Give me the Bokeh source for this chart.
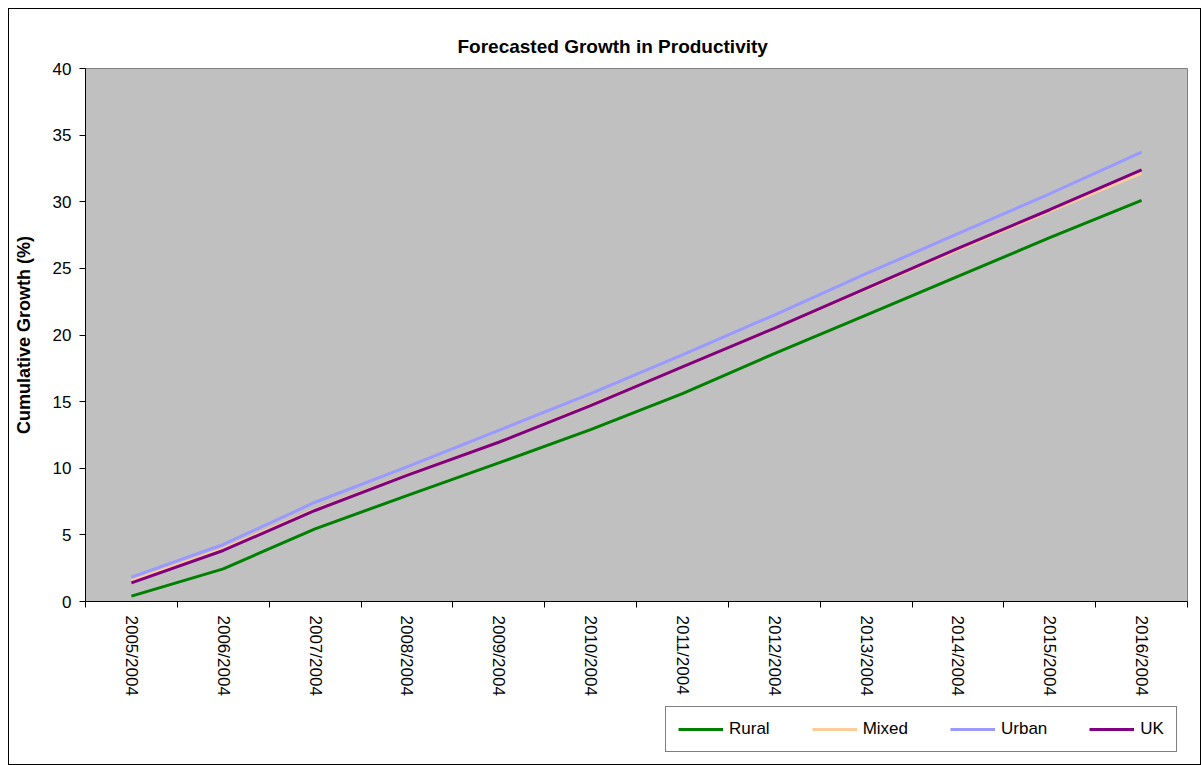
import math
from bokeh.plotting import figure
from bokeh.layouts import column
from bokeh.models import (FixedTicker, Range1d, Legend, LegendItem, Title)
from bokeh.embed import file_html
from bokeh.resources import INLINE

categories = ["2005/2004", "2006/2004", "2007/2004", "2008/2004", "2009/2004",
              "2010/2004", "2011/2004", "2012/2004", "2013/2004", "2014/2004",
              "2015/2004", "2016/2004"]
rural = [0.4, 2.45, 5.45, 7.95, 10.4, 12.9, 15.6, 18.6, 21.5, 24.4, 27.3, 30.1]
mixed = [1.55, 3.95, 6.9, 9.5, 11.95, 14.75, 17.6, 20.5, 23.45, 26.4, 29.3, 32.15]
urban = [1.83, 4.28, 7.45, 10.1, 12.85, 15.6, 18.5, 21.5, 24.6, 27.6, 30.6, 33.72]
uk = [1.4, 3.83, 6.83, 9.46, 11.95, 14.7, 17.6, 20.5, 23.5, 26.5, 29.4, 32.4]

series_names = ["Rural", "Mixed", "Urban", "UK"]
series_values = [rural, mixed, urban, uk]
series_colors = ["#008000", "#FFCC99", "#9999FF", "#800080"]

xs = [i + 0.5 for i in range(len(categories))]

FONT = "Liberation Sans"

p = figure(width=1191, height=696, output_backend="svg", toolbar_location=None,
           x_range=Range1d(0, len(categories)), y_range=Range1d(0, 40),
           min_border_left=76, min_border_right=13, min_border_top=59,
           min_border_bottom=104)
p.background_fill_color = "#C0C0C0"
p.border_fill_color = "white"
p.outline_line_color = "#808080"
p.outline_line_width = 1
p.xgrid.visible = False
p.ygrid.visible = False

p.title = Title(text="Forecasted Growth in Productivity", align="left",
                offset=372, text_font=FONT, text_font_size="19px",
                text_font_style="bold", text_color="black", standoff=24)

for name, vals, col in zip(series_names, series_values, series_colors):
    p.line(xs, vals, line_color=col, line_width=3)

# x axis
p.xaxis.ticker = FixedTicker(ticks=xs, minor_ticks=list(range(len(categories) + 1)))
p.xaxis.major_label_overrides = {x: c for x, c in zip(xs, categories)}
p.xaxis.major_tick_in = 0
p.xaxis.major_tick_out = 0
p.xaxis.minor_tick_in = 0
p.xaxis.minor_tick_out = 6
p.xaxis.minor_tick_line_color = "black"
p.xaxis.axis_line_color = "black"
p.xaxis.major_label_orientation = -math.pi / 2
p.xaxis.major_label_standoff = 8
p.xaxis.major_label_text_font = FONT
p.xaxis.major_label_text_font_size = "17px"
p.xaxis.major_label_text_color = "black"

# y axis
p.yaxis.ticker = FixedTicker(ticks=list(range(0, 41, 5)))
p.yaxis.major_tick_in = 0
p.yaxis.major_tick_out = 6
p.yaxis.minor_tick_line_color = None
p.yaxis.axis_line_color = "black"
p.yaxis.major_tick_line_color = "black"
p.yaxis.major_label_text_font = FONT
p.yaxis.major_label_text_font_size = "17px"
p.yaxis.major_label_text_color = "black"
p.yaxis.major_label_standoff = 8
p.yaxis.axis_label = "Cumulative Growth (%)"
p.yaxis.axis_label_text_font = FONT
p.yaxis.axis_label_text_font_size = "18px"
p.yaxis.axis_label_text_font_style = "bold"
p.yaxis.axis_label_text_color = "black"
p.yaxis.axis_label_standoff = 16

# legend strip below the chart (series drawn outside its visible range)
p2 = figure(width=1191, height=59, output_backend="svg", toolbar_location=None,
            x_range=Range1d(0, len(categories)), y_range=Range1d(-100, -99),
            x_axis_location=None, y_axis_location=None,
            min_border=0, outline_line_color=None)
p2.grid.visible = False
p2.border_fill_color = "white"
p2.background_fill_color = "white"

items = []
for name, vals, col in zip(series_names, series_values, series_colors):
    r = p2.line(xs, vals, line_color=col, line_width=3)
    items.append(LegendItem(label=name, renderers=[r]))

legend = Legend(items=items, orientation="horizontal", location=(580, 12),
                label_text_font=FONT, label_text_font_size="17px",
                label_text_color="black", glyph_width=45, glyph_height=20,
                label_standoff=6, spacing=42, padding=12, margin=0,
                border_line_color="black", border_line_width=1,
                background_fill_color="white", background_fill_alpha=1.0)
p2.add_layout(legend, "center")

layout = column(p, p2, spacing=0)
layout.styles = {"margin": "8px 0 0 8px", "border": "1px solid black"}

open("out.html", "w").write(file_html(layout, INLINE))
